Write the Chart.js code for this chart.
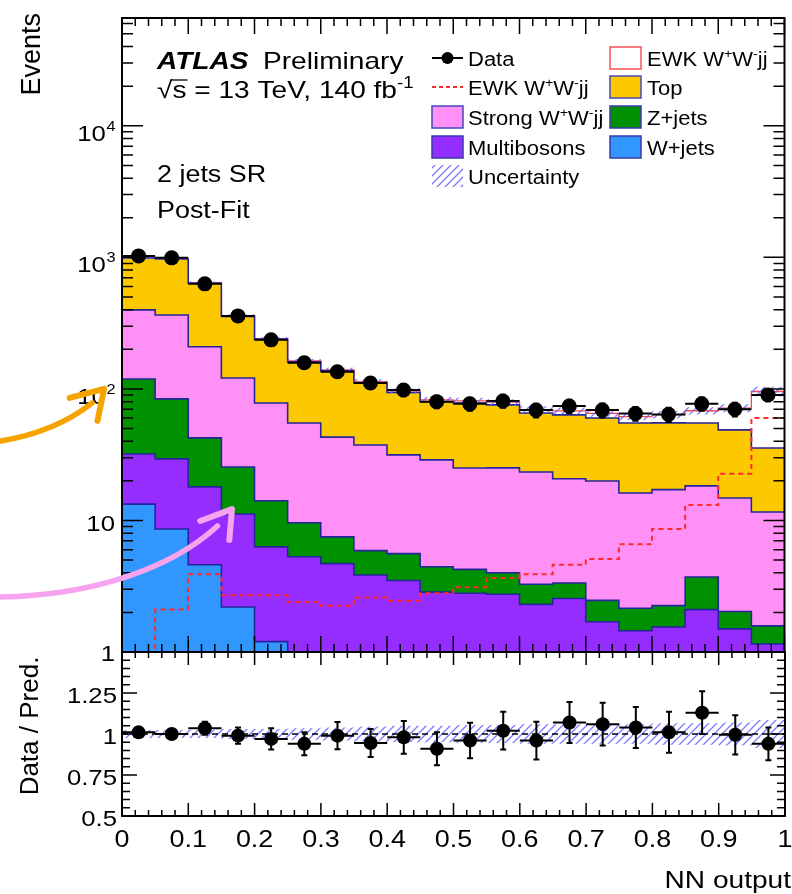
<!DOCTYPE html>
<html lang="en">
<head>
<meta charset="UTF-8">
<title>NN output - 2 jets SR</title>
<script src="https://cdn.jsdelivr.net/npm/chart.js@4.4.0/dist/chart.umd.min.js"></script>
<style>
  body { margin: 0; background: #fff; }
  #wrap { position: relative; width: 792px; height: 894px; overflow: hidden; }
  canvas { position: absolute; left: 0; }
</style>
</head>
<body>
<div id="wrap">
  <canvas id="main" width="792" height="672" style="top:0"></canvas>
  <canvas id="ratio" width="792" height="294" style="top:600px"></canvas>
</div>
<script>
// ---- data (20 bins in NN output) ----
const binEdges = [0, 0.05, 0.1, 0.15, 0.2, 0.25, 0.3, 0.35, 0.4, 0.45, 0.5,
                  0.55, 0.6, 0.65, 0.7, 0.75, 0.8, 0.85, 0.9, 0.95, 1.0];

const wjets       = [13.3, 8.6, 4.6, 2.2, 1.2, 0, 0, 0, 0, 0, 0, 0, 0, 0, 0, 0, 0, 0, 0, 0];
const multibosons = [18.7, 20.8, 13.4, 9.0, 5.1, 5.3, 4.7, 3.85, 3.5, 2.85, 2.8, 2.75, 2.3, 2.55, 1.7, 1.45, 1.55, 2.1, 1.5, 1.15];
const zjets       = [87, 54.6, 24.4, 14.3, 7.8, 4.3, 2.8, 2.05, 2.1, 1.6, 1.45, 1.25, 0.97, 0.8, 0.77, 0.7, 0.7, 1.62, 0.53, 0.43];
const strongWW    = [280, 281, 167, 95.5, 64, 45.4, 35.5, 31.6, 25.9, 24.4, 20.8, 21.1, 20.1, 17.4, 17.5, 14.0, 14.9, 14.6, 12.8, 10.0];
const topBkg      = [591, 607, 427, 235, 160, 106, 94, 73.5, 62.5, 51, 53, 50.5, 42.3, 42.7, 40.2, 38.9, 38, 36.8, 34, 24];
const ewkWW       = [1.0, 2.1, 3.9, 2.7, 2.7, 2.4, 2.25, 2.6, 2.45, 2.8, 3.1, 3.65, 3.9, 4.6, 5.1, 6.6, 8.6, 13.1, 22.6, 60];

const dataEvents  = [1026, 991, 629, 359, 236, 158, 135, 111, 98, 80, 77, 81, 69, 74, 69, 65, 64, 77, 70, 90];

// lower panel
const ratioVals   = [1.01, 1.0, 1.035, 0.99, 0.97, 0.94, 0.99, 0.945, 0.98, 0.91, 0.96, 1.02, 0.96, 1.07, 1.06, 1.04, 1.01, 1.13, 0.995, 0.94];
const ratioErr    = [0.03, 0.03, 0.04, 0.05, 0.065, 0.07, 0.083, 0.086, 0.1, 0.1, 0.108, 0.115, 0.115, 0.125, 0.13, 0.125, 0.125, 0.13, 0.12, 0.10];
const predUnc     = [0.025, 0.025, 0.025, 0.03, 0.03, 0.035, 0.04, 0.045, 0.05, 0.05, 0.055, 0.055, 0.06, 0.06, 0.06, 0.06, 0.065, 0.065, 0.07, 0.085];

// tick labels
const logTickLabels = [[1, '1', ''], [10, '10', ''], [100, '10', '2'], [1000, '10', '3'], [10000, '10', '4']];
const ratioTickLabels = [[0.5, '0.5'], [0.75, '0.75'], [1, '1'], [1.25, '1.25']];
const xTickLabels = ['0', '0.1', '0.2', '0.3', '0.4', '0.5', '0.6', '0.7', '0.8', '0.9', '1'];

// hand drawn arrows on the picture, in axis units (x, events)
const orangeArrow = { shaft: [[-0.183, 40.2], [-0.100, 47.1], [-0.045, 78.3]], head: [[-0.079, 85.4], [-0.027, 100], [-0.037, 57.1]] };
const pinkArrow   = { shaft: [[-0.183, 2.62], [-0.048, 2.71], [0.072, 4.2], [0.144, 9.08]], head: [[0.118, 9.91], [0.166, 12.2], [0.162, 7.11]] };

// ---- helpers ----
const FONT = '"Liberation Sans", Arial, Helvetica, sans-serif';
const SX = 1.17;   // text in the reference is a bit wide

function histPoints(vals) {
  // stepped line: one point per left bin edge, plus the right edge; zero -> below axis
  const pts = vals.map((v, i) => ({ x: binEdges[i], y: v > 0 ? v : 1e-3 }));
  pts.push({ x: binEdges[binEdges.length - 1], y: pts[pts.length - 1].y });
  return pts;
}
const centers = binEdges.slice(0, -1).map((e, i) => (e + binEdges[i + 1]) / 2);

function richText(ctx, parts, x, y, size, opt = {}) {
  const sx = opt.sx ?? SX;
  const style = opt.style || '';
  const supSize = Math.round(size * (opt.supScale || 0.65));
  const rise = opt.supRise ?? size * 0.45;
  const segs = parts.map(p => (typeof p === 'string' ? { t: p } : p));
  const fontOf = s => `${style} ${s.sup ? supSize : size}px ${FONT}`;
  const widths = segs.map(s => { ctx.font = fontOf(s); return ctx.measureText(s.t).width * sx; });
  const total = widths.reduce((a, b) => a + b, 0);
  let cx = opt.align === 'right' ? x - total : opt.align === 'center' ? x - total / 2 : x;
  segs.forEach((s, i) => {
    ctx.save();
    ctx.font = fontOf(s);
    ctx.textBaseline = 'alphabetic';
    ctx.fillStyle = opt.color || '#000';
    ctx.translate(cx, s.sup ? y - rise : y);
    ctx.scale(sx, 1);
    ctx.fillText(s.t, 0, 0);
    ctx.restore();
    cx += widths[i];
  });
  return total;
}

function makeHatch() {
  const c = document.createElement('canvas');
  c.width = 8; c.height = 8;
  const g = c.getContext('2d');
  g.strokeStyle = 'rgba(100,100,255,0.85)';
  g.lineWidth = 1.3;
  g.beginPath();
  g.moveTo(0, 8); g.lineTo(8, 0);
  g.moveTo(-1, 1); g.lineTo(1, -1);
  g.moveTo(7, 9); g.lineTo(9, 7);
  g.stroke();
  return g.createPattern(c, 'repeat');
}
const hatch = makeHatch();

// ---- error bars for data points ----
const errorBars = {
  id: 'errorBars',
  beforeDatasetDraw(chart, args) {
    const ds = chart.data.datasets[args.index];
    if (!ds.errors) return;
    const { ctx, chartArea: a, scales: { x, y } } = chart;
    ctx.save();
    ctx.beginPath();
    ctx.rect(a.left, a.top, a.right - a.left, a.bottom - a.top);
    ctx.clip();
    ctx.strokeStyle = '#000';
    ctx.lineWidth = 2;
    ctx.beginPath();
    ds.data.forEach((p, i) => {
      const px = x.getPixelForValue(p.x), py = y.getPixelForValue(p.y);
      const e = ds.errors[i];
      const yt = y.getPixelForValue(p.y + e), yb = y.getPixelForValue(p.y - e);
      ctx.moveTo(x.getPixelForValue(p.x - ds.halfWidth), py);
      ctx.lineTo(x.getPixelForValue(p.x + ds.halfWidth), py);
      ctx.moveTo(px, yt); ctx.lineTo(px, yb);
      ctx.moveTo(px - 3, yt); ctx.lineTo(px + 3, yt);
      ctx.moveTo(px - 3, yb); ctx.lineTo(px + 3, yb);
    });
    ctx.stroke();
    ctx.restore();
  }
};

function drawFrame(chart, yTicks, len) {
  const { ctx, chartArea: a, scales: { x } } = chart;
  ctx.save();
  ctx.strokeStyle = '#000';
  ctx.lineWidth = 1.5;
  ctx.beginPath();
  for (let k = 0; k <= 50; k++) {
    const px = x.getPixelForValue(k / 50);
    const l = k % 5 === 0 ? len.xMajor : len.xMinor;
    ctx.moveTo(px, a.bottom); ctx.lineTo(px, a.bottom - l);
    ctx.moveTo(px, a.top); ctx.lineTo(px, a.top + l);
  }
  yTicks.forEach(([py, major]) => {
    const l = major ? len.yMajor : len.yMinor;
    ctx.moveTo(a.left, py); ctx.lineTo(a.left + l, py);
    ctx.moveTo(a.right, py); ctx.lineTo(a.right - l, py);
  });
  ctx.stroke();
  ctx.lineWidth = 2;
  ctx.strokeRect(a.left, a.top, a.right - a.left, a.bottom - a.top);
  ctx.restore();
}

function strokeArrow(ctx, x, y, arrow, color) {
  const P = ([u, v]) => [x.getPixelForValue(u), y.getPixelForValue(v)];
  ctx.save();
  ctx.strokeStyle = color;
  ctx.lineCap = 'round';
  ctx.lineJoin = 'round';
  ctx.lineWidth = 5.5;
  const s = arrow.shaft.map(P);
  ctx.beginPath();
  ctx.moveTo(...s[0]);
  if (s.length === 3) ctx.quadraticCurveTo(...s[1], ...s[2]);
  else ctx.bezierCurveTo(...s[1], ...s[2], ...s[3]);
  ctx.stroke();
  const h = arrow.head.map(P);
  ctx.lineWidth = 6;
  ctx.beginPath();
  ctx.moveTo(...h[0]); ctx.lineTo(...h[1]); ctx.lineTo(...h[2]);
  ctx.stroke();
  ctx.restore();
}

// ---- upper panel decorations ----
const upperDecor = {
  id: 'upperDecor',
  afterDraw(chart) {
    const { ctx, scales: { x, y } } = chart;
    const yTicks = [];
    for (let d = 0; d <= 4; d++) {
      for (let m = 1; m <= 9; m++) {
        const v = m * Math.pow(10, d);
        if (v <= y.max) yTicks.push([y.getPixelForValue(v), m === 1]);
      }
    }
    drawFrame(chart, yTicks, { xMajor: 16, xMinor: 8, yMajor: 21, yMinor: 11 });

    // y tick labels
    logTickLabels.forEach(([v, base, exp]) => {
      const py = y.getPixelForValue(v);
      if (exp) {
        ctx.font = `14px ${FONT}`;
        const we = ctx.measureText(exp).width * SX;
        richText(ctx, [base], 115 - we, py + 15, 22, { align: 'right' });
        richText(ctx, [exp], 115 - we + 0.5, py + 5, 14, {});
      } else {
        richText(ctx, [base], 115, py + (base === '1' ? 9 : 10.5), 22, { align: 'right' });
      }
    });

    // axis title
    ctx.save();
    ctx.translate(40, 13);
    ctx.rotate(-Math.PI / 2);
    ctx.font = `27px ${FONT}`;
    ctx.textAlign = 'right';
    ctx.fillStyle = '#000';
    ctx.fillText('Events', 0, 0);
    ctx.restore();

    // ATLAS label
    richText(ctx, ['ATLAS'], 157, 69, 24, { style: 'italic bold' });
    richText(ctx, ['Preliminary'], 263, 69, 24);
    const wRoot = richText(ctx, ['\u221A'], 157, 98, 24);
    ctx.font = `24px ${FONT}`;
    const wS = ctx.measureText('s').width * SX;
    ctx.save();
    ctx.strokeStyle = '#000'; ctx.lineWidth = 1.3;
    ctx.beginPath(); ctx.moveTo(157 + wRoot - 1, 80); ctx.lineTo(157 + wRoot + wS + 1, 80); ctx.stroke();
    ctx.restore();
    richText(ctx, ['s = 13 TeV, 140 fb', { t: '-1', sup: true }], 157 + wRoot, 98, 24, { supRise: 10 });
    richText(ctx, ['2 jets SR'], 157, 182, 23);
    richText(ctx, ['Post-Fit'], 157, 218, 23);

    // legend
    const rows = [58, 87, 117, 147, 176];
    const boxL = 432, boxW = 31, boxH = 22;
    const ww = ['W', { t: '+', sup: true }, 'W', { t: '-', sup: true }, 'jj'];
    const legendText = (parts, tx, cy) => richText(ctx, parts, tx, cy + 7.5, 20, { sx: 1.1, supRise: 8 });
    const box = (bx, cy, fill, border) => {
      ctx.save();
      ctx.fillStyle = fill;
      ctx.fillRect(bx, cy - boxH / 2, boxW, boxH);
      ctx.strokeStyle = border; ctx.lineWidth = 1.5;
      ctx.strokeRect(bx, cy - boxH / 2, boxW, boxH);
      ctx.restore();
    };
    // Data
    ctx.save();
    ctx.strokeStyle = '#000'; ctx.lineWidth = 2;
    ctx.beginPath(); ctx.moveTo(boxL, rows[0]); ctx.lineTo(boxL + boxW, rows[0]); ctx.stroke();
    ctx.fillStyle = '#000';
    ctx.beginPath(); ctx.arc(boxL + boxW / 2, rows[0], 6, 0, Math.PI * 2); ctx.fill();
    // EWK dashed
    ctx.strokeStyle = '#ff2a2a'; ctx.setLineDash([4, 3]);
    ctx.beginPath(); ctx.moveTo(boxL, rows[1]); ctx.lineTo(boxL + boxW, rows[1]); ctx.stroke();
    ctx.restore();
    legendText(['Data'], 468, rows[0]);
    legendText(['EWK ', ...ww], 468, rows[1]);
    box(boxL, rows[2], '#ff91f6', '#4a4ab8');
    legendText(['Strong ', ...ww], 468, rows[2]);
    box(boxL, rows[3], '#962dff', '#3a3aa8');
    legendText(['Multibosons'], 468, rows[3]);
    ctx.save();
    ctx.fillStyle = hatch;
    ctx.fillRect(boxL, rows[4] - boxH / 2, boxW, boxH);
    ctx.restore();
    legendText(['Uncertainty'], 468, rows[4]);

    const c2 = 610;
    box(c2, rows[0], '#ffffff', '#ff5050');
    legendText(['EWK ', ...ww], 647, rows[0]);
    box(c2, rows[1], '#fcc900', '#4a4ab8');
    legendText(['Top'], 647, rows[1]);
    box(c2, rows[2], '#009100', '#3a3aa8');
    legendText(['Z+jets'], 647, rows[2]);
    box(c2, rows[3], '#3296ff', '#3a3aa8');
    legendText(['W+jets'], 647, rows[3]);

    // hand drawn arrows
    strokeArrow(ctx, x, y, orangeArrow, '#f6a300');
    strokeArrow(ctx, x, y, pinkArrow, '#f7a3ef');
  }
};

// ---- lower panel decorations ----
const lowerDecor = {
  id: 'lowerDecor',
  afterDraw(chart) {
    const { ctx, scales: { x, y } } = chart;
    const yTicks = [];
    for (let k = 0; k <= 20; k++) yTicks.push([y.getPixelForValue(0.5 + k * 0.05), k % 5 === 0]);
    drawFrame(chart, yTicks, { xMajor: 13, xMinor: 6, yMajor: 15, yMinor: 8 });

    ratioTickLabels.forEach(([v, s]) => {
      richText(ctx, [s], 117, y.getPixelForValue(v) + 10, 22, { align: 'right' });
    });
    xTickLabels.forEach((s, i) => {
      richText(ctx, [s], x.getPixelForValue(i / 10), 247, 23, { align: 'center' });
    });

    ctx.save();
    ctx.translate(38, 126);
    ctx.rotate(-Math.PI / 2);
    ctx.font = `26px ${FONT}`;
    ctx.textAlign = 'center';
    ctx.fillStyle = '#000';
    ctx.fillText('Data / Pred.', 0, 0);
    ctx.restore();

    richText(ctx, ['NN output'], 791, 288, 24, { align: 'right' });
  }
};

// ---- build the stack (bottom to top) ----
const layers = [
  { label: 'W+jets', vals: wjets, color: '#3296ff' },
  { label: 'Multibosons', vals: multibosons, color: '#962dff' },
  { label: 'Z+jets', vals: zjets, color: '#009100' },
  { label: 'Strong WWjj', vals: strongWW, color: '#ff91f6' },
  { label: 'Top', vals: topBkg, color: '#fcc900' },
  { label: 'EWK WWjj', vals: ewkWW, color: '#ffffff', border: '#ff4646' }
];
let running = new Array(binEdges.length - 1).fill(0);
const stackSets = layers.map((l, j) => {
  running = running.map((r, i) => r + l.vals[i]);
  return {
    label: l.label,
    data: histPoints(running),
    stepped: true,
    fill: 'start',
    backgroundColor: l.color,
    borderColor: l.border || '#25259a',
    borderWidth: l.border ? 1.3 : 1.6,
    pointRadius: 0,
    order: 20 + j
  };
});
const totalPred = running.slice();

const mainChart = new Chart(document.getElementById('main'), {
  type: 'line',
  data: {
    datasets: [
      ...stackSets,
      {
        label: 'unc hi', data: histPoints(totalPred.map((t, i) => t * (1 + predUnc[i]))),
        stepped: true, fill: '+1', backgroundColor: hatch, borderColor: 'rgba(0,0,0,0)', pointRadius: 0, order: 10
      },
      {
        label: 'unc lo', data: histPoints(totalPred.map((t, i) => t * (1 - predUnc[i]))),
        stepped: true, fill: false, borderColor: 'rgba(0,0,0,0)', pointRadius: 0, order: 11
      },
      {
        label: 'EWK line', data: histPoints(ewkWW), stepped: true, fill: false,
        borderColor: '#ff2a2a', borderWidth: 2, borderDash: [5, 4], pointRadius: 0, order: 5
      },
      {
        label: 'Data', data: centers.map((c, i) => ({ x: c, y: dataEvents[i] })),
        showLine: false, pointRadius: 7.5, pointBackgroundColor: '#000', pointBorderColor: '#000', pointBorderWidth: 0,
        errors: dataEvents.map((d, i) => d * ratioErr[i] / ratioVals[i]), halfWidth: 0.025, order: 0
      }
    ]
  },
  options: {
    responsive: false,
    animation: false,
    events: [],
    layout: { padding: { left: 122, right: 2, top: 18, bottom: 20 } },
    scales: {
      x: { type: 'linear', min: 0, max: 1, display: false },
      y: { type: 'logarithmic', min: 1, max: 66000, display: false }
    },
    plugins: { legend: { display: false }, tooltip: { enabled: false } }
  },
  plugins: [errorBars, upperDecor]
});

const ratioChart = new Chart(document.getElementById('ratio'), {
  type: 'line',
  data: {
    datasets: [
      {
        label: 'band hi', data: histPoints(predUnc.map(u => 1 + u)),
        stepped: true, fill: '+1', backgroundColor: hatch, borderColor: 'rgba(0,0,0,0)', pointRadius: 0, order: 10
      },
      {
        label: 'band lo', data: histPoints(predUnc.map(u => 1 - u)),
        stepped: true, fill: false, borderColor: 'rgba(0,0,0,0)', pointRadius: 0, order: 11
      },
      {
        label: 'unity', data: [{ x: 0, y: 1 }, { x: 1, y: 1 }], fill: false,
        borderColor: '#000', borderWidth: 1.5, borderDash: [6, 4], pointRadius: 0, order: 5
      },
      {
        label: 'Data / Pred.', data: centers.map((c, i) => ({ x: c, y: ratioVals[i] })),
        showLine: false, pointRadius: 7, pointBackgroundColor: '#000', pointBorderColor: '#000', pointBorderWidth: 0,
        errors: ratioErr, halfWidth: 0.025, order: 0
      }
    ]
  },
  options: {
    responsive: false,
    animation: false,
    events: [],
    layout: { padding: { left: 122, right: 2, top: 52, bottom: 78 } },
    scales: {
      x: { type: 'linear', min: 0, max: 1, display: false },
      y: { type: 'linear', min: 0.5, max: 1.5, display: false }
    },
    plugins: { legend: { display: false }, tooltip: { enabled: false } }
  },
  plugins: [errorBars, lowerDecor]
});
</script>
</body>
</html>
